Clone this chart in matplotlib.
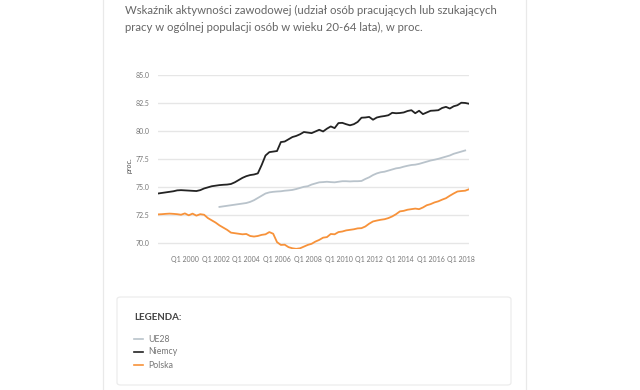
import matplotlib
matplotlib.use("Agg")
import matplotlib.pyplot as plt
import matplotlib.patches as patches
from matplotlib.lines import Line2D

# quarters from Q2 1998 to Q3 2018
years = list(range(1998, 2019))
quarters = []
for y in years:
    for q in range(1, 5):
        if (y == 1998 and q == 1) or (y == 2018 and q == 4):
            continue
        quarters.append(f"Q{q} {y}")

niemcy = [
    74.4, 74.45, 74.5,
    74.55, 74.6, 74.68, 74.7,
    74.68, 74.66, 74.64, 74.62,
    74.7, 74.85, 74.95, 75.05,
    75.1, 75.15, 75.18, 75.2,
    75.25, 75.4, 75.6, 75.8,
    75.95, 76.05, 76.1, 76.2,
    76.95, 77.8, 78.1, 78.15,
    78.2, 79.0, 79.05, 79.25,
    79.45, 79.55, 79.7, 79.9,
    79.85, 79.8, 79.95, 80.1,
    79.95, 80.2, 80.4, 80.25,
    80.7, 80.72, 80.6, 80.5,
    80.6, 80.8, 81.18, 81.2,
    81.25, 81.0, 81.2, 81.28,
    81.33, 81.4, 81.62, 81.58,
    81.6, 81.65, 81.78, 81.85,
    81.58, 81.8, 81.5, 81.65,
    81.8, 81.82, 81.85, 82.05,
    82.15, 82.0, 82.2, 82.3,
    82.52, 82.5, 82.43,
]

ue28 = [None] * 16 + [
    73.2, 73.25, 73.3,
    73.35, 73.4, 73.45, 73.5,
    73.55, 73.65, 73.8, 74.0,
    74.2, 74.4, 74.5, 74.55,
    74.58, 74.6, 74.65, 74.68,
    74.72, 74.8, 74.9, 75.0,
    75.05, 75.2, 75.3, 75.4,
    75.42, 75.45, 75.42, 75.4,
    75.45, 75.5, 75.5, 75.48,
    75.5, 75.5, 75.52, 75.7,
    75.85, 76.05, 76.2, 76.3,
    76.35, 76.45, 76.55, 76.65,
    76.7, 76.8, 76.88, 76.95,
    76.98, 77.05, 77.15, 77.25,
    77.35, 77.42, 77.5, 77.6,
    77.7, 77.8, 77.95, 78.05,
    78.15, 78.25,
] + [None]

polska = [
    72.53, 72.55, 72.58,
    72.6, 72.58, 72.55, 72.5,
    72.62, 72.45, 72.6, 72.42,
    72.55, 72.5, 72.2, 72.0,
    71.8, 71.55, 71.35, 71.15,
    70.9, 70.85, 70.8, 70.75,
    70.78, 70.6, 70.55, 70.6,
    70.7, 70.75, 70.95, 70.8,
    70.05, 69.8, 69.82, 69.6,
    69.5, 69.45, 69.5, 69.65,
    69.8, 69.9, 70.1, 70.25,
    70.45, 70.5, 70.78, 70.75,
    70.95, 71.0, 71.1, 71.15,
    71.2, 71.28, 71.3, 71.45,
    71.7, 71.9, 71.98, 72.05,
    72.1, 72.2, 72.35, 72.55,
    72.8, 72.85, 72.95, 73.0,
    73.05, 73.0, 73.15, 73.35,
    73.45, 73.6, 73.7, 73.85,
    73.98, 74.2, 74.4, 74.58,
    74.62, 74.65, 74.78,
]

yticks = [70.0, 72.5, 75.0, 77.5, 80.0, 82.5, 85.0]
xtick_labels = [f"Q1 {y}" for y in range(2000, 2019, 2)]
legend_names = ["UE28", "Niemcy", "Polska"]
colors = ["#b9c3cb", "#232323", "#f7923a"]

plt.rcParams["font.family"] = ["Lato", "DejaVu Sans"]

fig = plt.figure(figsize=(6.4, 3.9), dpi=100)
fig.patch.set_facecolor("white")

# card borders
for xp in (103 / 640, 525.5 / 640):
    fig.add_artist(Line2D([xp, xp], [0, 1], color="#e9e9e9", linewidth=0.9,
                          transform=fig.transFigure))

fig.text(125 / 640, 1 - 10 / 390,
         "Wskaźnik aktywności zawodowej (udział osób pracujących lub szukających",
         fontsize=8.2, color="#666666", va="center", ha="left")
fig.text(125 / 640, 1 - 27 / 390,
         "pracy w ogólnej populacji osób w wieku 20-64 lata), w proc.",
         fontsize=8.2, color="#666666", va="center", ha="left")

ax = fig.add_axes([158 / 640, 1 - 249.4 / 390, 311 / 640, 174.4 / 390])
x = list(range(len(quarters)))

def clean(vals):
    return [float("nan") if v is None else v for v in vals]

for vals, c in zip([ue28, niemcy, polska], colors):
    ax.plot(x, clean(vals), color=c, linewidth=1.3, solid_joinstyle="round")

ax.set_xlim(0, len(quarters) - 1)
ax.set_ylim(69.4, 85.0)
ax.set_yticks(yticks)
ax.set_yticklabels([f"{v:.1f}" for v in yticks])
tick_pos = [quarters.index(l) for l in xtick_labels]
ax.set_xticks(tick_pos)
ax.set_xticklabels(xtick_labels)
ax.tick_params(axis="both", length=0, labelsize=5, labelcolor="#777777")
ax.tick_params(axis="y", pad=6)
ax.tick_params(axis="x", pad=5)
ax.grid(axis="y", color="#e6e6e6", linewidth=1)
ax.set_axisbelow(True)
for s in ax.spines.values():
    s.set_visible(False)

fig.text(129 / 640, 1 - 165 / 390, "proc.", rotation=90, fontsize=5.5,
         color="#555555", style="italic", ha="center", va="center")

# legend card
box = patches.FancyBboxPatch((117 / 640, 1 - 385 / 390), 394 / 640, 88 / 390,
                             boxstyle="round,pad=0,rounding_size=0.006",
                             transform=fig.transFigure, facecolor="white",
                             edgecolor="#ececec", linewidth=0.9)
fig.add_artist(box)
fig.text(134 / 640, 1 - 317 / 390, "LEGENDA:", fontsize=7, color="#444444",
         fontweight="bold", va="center", ha="left")
for i, (name, c) in enumerate(zip(legend_names, colors)):
    yy = 1 - (339 + 13 * i) / 390
    fig.add_artist(Line2D([134 / 640, 143 / 640], [yy, yy], color=c,
                          linewidth=1.2, transform=fig.transFigure))
    fig.text(148 / 640, yy, name, fontsize=6.3, color="#777777",
             va="center", ha="left")

fig.savefig("out.png", dpi=100, facecolor="white")
